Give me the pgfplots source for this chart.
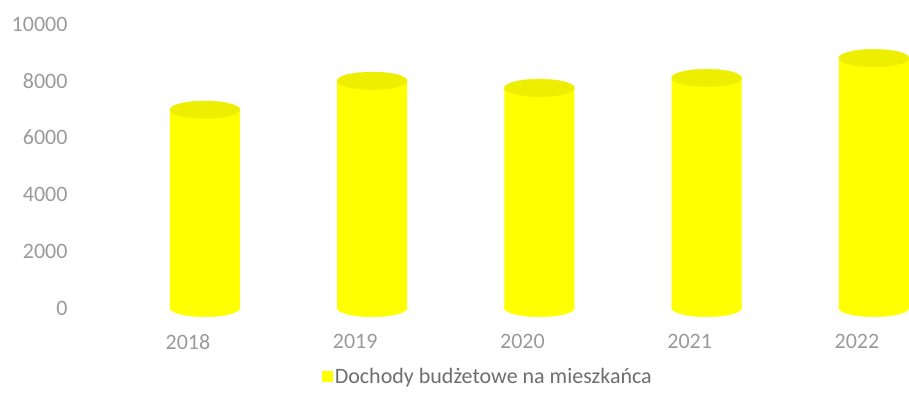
\documentclass[border=0pt]{standalone}
\usepackage{fontspec}
\setmainfont{Carlito}
\usepackage{pgfplots}
\pgfplotsset{compat=1.18}
\definecolor{barY}{HTML}{FFFF00}
\definecolor{topY}{HTML}{EEEE00}
\definecolor{tickgray}{HTML}{9A9A9A}
\definecolor{leggray}{HTML}{6E6E6E}

\begin{document}
\begin{tikzpicture}[x=1pt,y=1pt]
\begin{axis}[
  at={(80pt,98pt)}, anchor=south west,
  scale only axis, width=829pt, height=284pt,
  xmin=-0.6455, xmax=4.311, ymin=0, ymax=10000,
  xtick={0,...,4}, xticklabels={2018,2019,2020,2021,2022},
  ytick={0,2000,...,10000},
  scaled y ticks=false,
  axis line style={draw=none}, major tick length=0pt,
  ticklabel style={font=\fontsize{22}{26}\selectfont, text=tickgray},
  /pgf/number format/assume math mode=true,
  /pgf/number format/1000 sep={},
  yticklabel style={xshift=-9pt},
  xticklabel style={yshift=-23pt},
  clip=false,
  legend style={at={(0.492,-0.243)}, anchor=center, draw=none,
    font=\fontsize{22}{26}\selectfont, text=leggray},
  legend image code/.code={\fill[barY] (-3pt,-5.5pt) rectangle (8pt,5.5pt);},
]
% bodies of the cylinders
\addplot[ybar, bar width=70pt, bar shift=17pt, fill=barY, draw=none]
  coordinates {(0,6980) (1,8000) (2,7750) (3,8100) (4,8800)};
\addlegendentry{Dochody budżetowe na mieszkańca}
% rounded bottoms
\addplot[forget plot, only marks, draw=none, mark=*, mark size=35pt,
  mark options={xshift=17pt, yscale=0.25, fill=barY, draw=barY}]
  coordinates {(0,0) (1,0) (2,0) (3,0) (4,0)};
% tops
\addplot[forget plot, only marks, draw=none, mark=*, mark size=35pt,
  mark options={xshift=17pt, yscale=0.25, fill=topY, draw=topY}]
  coordinates {(0,6980) (1,8000) (2,7750) (3,8100) (4,8800)};
\end{axis}
\path[use as bounding box] (0,0) rectangle (909,406);
\end{tikzpicture}
\end{document}
